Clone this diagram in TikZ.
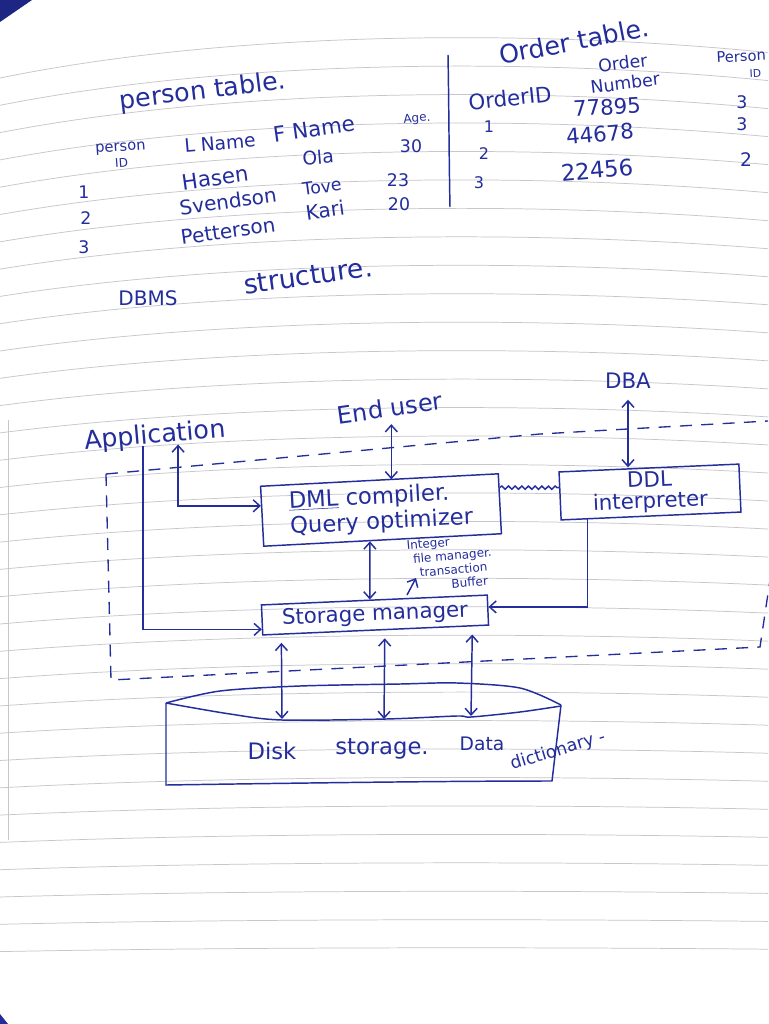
\documentclass[tikz,border=0pt]{standalone}
\usepackage{fontspec}
\newfontfamily\hand{DejaVu Sans}
\usetikzlibrary{arrows.meta,calc,decorations.pathmorphing}
\definecolor{ink}{RGB}{35,45,155}
\definecolor{rulec}{RGB}{198,198,204}
\newcommand\fsz[1]{\hand\fontsize{#1}{#1}\selectfont}
\begin{document}
\begin{tikzpicture}[x=0.75pt,y=-0.75pt,
  t/.style={text=ink, inner sep=0pt},
  box/.style={draw=ink, line width=1.1pt, text=ink, inner sep=2pt},
  pen/.style={draw=ink, line width=1.1pt},
  arr/.style={pen, -{Straight Barb[length=5pt,width=9pt]}},
  dbl/.style={pen, {Straight Barb[length=5pt,width=9pt]}-{Straight Barb[length=5pt,width=9pt]}},
  bnd/.style={draw=ink, line width=1pt, dash pattern=on 9pt off 7pt},
  rule/.style={draw=rulec, line width=0.55pt}]
\useasboundingbox (0,0) rectangle (768,1024);
\fill[white] (0,0) rectangle (768,1024);
% notebook ruling
\foreach \k in {0,...,32}{
  \pgfmathsetmacro\L{78+27.3*\k}
  \pgfmathsetmacro\d{max(4,40*(1-(\L-132)/900))}
  \draw[rule] (0,\L) .. controls (250,\L-1.2*\d) and (560,\L-1.1*\d) .. (768,\L-0.6*\d);
}
\draw[rule] (8,420) -- (8,840);
\fill[ink!85!black] (0,0) -- (32,0) -- (0,22) -- cycle;
\fill[ink] (0,1014) -- (8,1024) -- (0,1024) -- cycle;

% person table
\node[t,font=\fsz{19},rotate=7] (pt) at (203,92) {person table.};
\node[t,font=\fsz{11},rotate=4,align=center] (pid) at (121,155) {person\\[1pt]{\fsz{9}ID}};
\node[t,font=\fsz{14},rotate=5] (ln) at (220,143) {L Name};
\node[t,font=\fsz{16},rotate=8] (fn) at (314,129) {F Name};
\node[t,font=\fsz{9},rotate=5] (age) at (417,119) {Age.};
\node[t,font=\fsz{13}] (r1) at (84,192) {1};
\node[t,font=\fsz{13}] (r2) at (86,218) {2};
\node[t,font=\fsz{13}] (r3) at (84,247) {3};
\node[t,font=\fsz{16},rotate=8] (hasen) at (215,178) {Hasen};
\node[t,font=\fsz{14},rotate=5] (ola) at (318,157) {Ola};
\node[t,font=\fsz{13}] (a1) at (411,146) {30};
\node[t,font=\fsz{15},rotate=8] (sv) at (228,201) {Svendson};
\node[t,font=\fsz{13},rotate=8] (tove) at (322,187) {Tove};
\node[t,font=\fsz{13}] (a2) at (398,180) {23};
\node[t,font=\fsz{15},rotate=8] (pe) at (228,231) {Petterson};
\node[t,font=\fsz{15},rotate=8] (kari) at (325,210) {Kari};
\node[t,font=\fsz{13}] (a3) at (399,204) {20};
\draw[pen] (448,55) .. controls (449,110) and (449,160) .. (450,207);

% order table
\node[t,font=\fsz{19},rotate=11] (ot) at (574,41) {Order table.};
\node[t,font=\fsz{13},rotate=7,align=center] (on) at (624,73) {Order\\[2pt]Number};
\node[t,font=\fsz{16},rotate=6] (oid) at (510,98) {OrderID};
\node[t,font=\fsz{16},rotate=3] (n1) at (607,107) {77895};
\node[t,font=\fsz{16},rotate=5] (n2) at (600,134) {44678};
\node[t,font=\fsz{17},rotate=5] (n3) at (597,170) {22456};
\node[t,font=\fsz{12}] (o1) at (489,127) {1};
\node[t,font=\fsz{12}] (o2) at (484,154) {2};
\node[t,font=\fsz{12}] (o3) at (479,183) {3};
\node[t,font=\fsz{11},anchor=north west,align=center,rotate=3] (pid2) at (716,52) {Person\\[1pt]{\fsz{8}\hspace*{2.5em}ID}};
\node[t,font=\fsz{13}] (p1) at (742,102) {3};
\node[t,font=\fsz{13}] (p2) at (742,124) {3};
\node[t,font=\fsz{14}] (p3) at (746,160) {2};

% title
\node[t,font=\fsz{15}] (dbms) at (148,298) {DBMS};
\node[t,font=\fsz{20},rotate=8] (struct) at (308,276) {structure.};

% boundaries
\draw[bnd] (106,474) -- (540,434) -- (768,421);
\draw[bnd] (106,474) -- (111,680) -- (760,647) -- (770,580);

% diagram nodes
\node[t,font=\fsz{19},rotate=5] (app) at (155,436) {Application};
\node[t,font=\fsz{18},rotate=8] (eu) at (390,408) {End user};
\node[t,font=\fsz{16}] (dba) at (628,381) {DBA};
\node[box,rotate=3,minimum width=178.5pt,minimum height=45pt,align=left,font=\fsz{17}] (dml) at (381,510) {\underline{DML} compiler.\\[2pt]Query optimizer};
\node[box,rotate=2.5,minimum width=135pt,minimum height=36pt,align=center,font=\fsz{16}] (ddl) at (650,492) {DDL\\interpreter};
\node[box,rotate=2.5,minimum width=169.5pt,minimum height=22.5pt,font=\fsz{16}] (sm) at (375,615) {Storage manager};
\node[t,font={\hand\fontsize{9}{10.5}\selectfont},rotate=5,align=left,anchor=north west] (note) at (406,541)
  {Integer\\\hspace*{4pt}file manager.\\\hspace*{8pt}transaction\\\hspace*{31pt}Buffer};

% disk
\draw[pen] plot[smooth] coordinates {(166,703) (220,691) (300,686) (400,684) (457,683) (520,688) (561,705)};
\draw[pen] plot[smooth] coordinates {(166,703) (230,714) (282,720) (386,719) (457,716) (471,717) (520,712) (561,706)};
\draw[pen] (166,703) -- (166,785) .. controls (300,783) and (450,781) .. (552,781) -- (561,705);
\node[t,font=\fsz{17}] (disk) at (272,751) {Disk};
\node[t,font=\fsz{17}] (dst) at (382,749) {storage.};
\node[t,font=\fsz{14}] (ddata) at (482,744) {Data};
\node[t,font=\fsz{13},rotate=17] (ddict) at (558,751) {dictionary -};
\coordinate (d1) at (282,719);
\coordinate (d2) at (384,719);
\coordinate (d3) at (471,716);
\coordinate (ptrA) at (407,595);
\coordinate (ptrB) at (416,578);

% connectors
\draw[dbl] ([yshift=-8pt]dba.south) -- (dba.south |- ddl.north);
\draw[dbl] ([yshift=-5pt]eu.south) -- (eu.south |- dml.north);
\draw[dbl] ([xshift=16.5pt,yshift=3pt]app.south) |- ($(dml.north west)!0.33!(dml.south west)$);
\draw[arr] ([xshift=-9.75pt,yshift=2pt]app.south) |- ($(sm.north west)!0.8!(sm.south west)$);
\draw[pen,decorate,decoration={snake,amplitude=1.2pt,segment length=5pt}] ($(dml.north east)!0.237!(dml.south east)$) -- ($(ddl.north west)!0.333!(ddl.south west)$);
\draw[arr] ($(ddl.south west)!0.15!(ddl.south east)$) |- ($(sm.north east)!0.4!(sm.south east)$);
\draw[dbl] ($(dml.south west)!0.447!(dml.south east)$) -- ($(sm.north west)!0.48!(sm.north east)$);
\draw[arr] (ptrA) -- (ptrB);
\draw[dbl] ([yshift=-6pt]$(sm.south west)!0.085!(sm.south east)$) -- (d1);
\draw[dbl] ([yshift=-6pt]$(sm.south west)!0.54!(sm.south east)$) -- (d2);
\draw[dbl] ([yshift=-6pt]$(sm.south west)!0.925!(sm.south east)$) -- (d3);
\end{tikzpicture}
\end{document}
